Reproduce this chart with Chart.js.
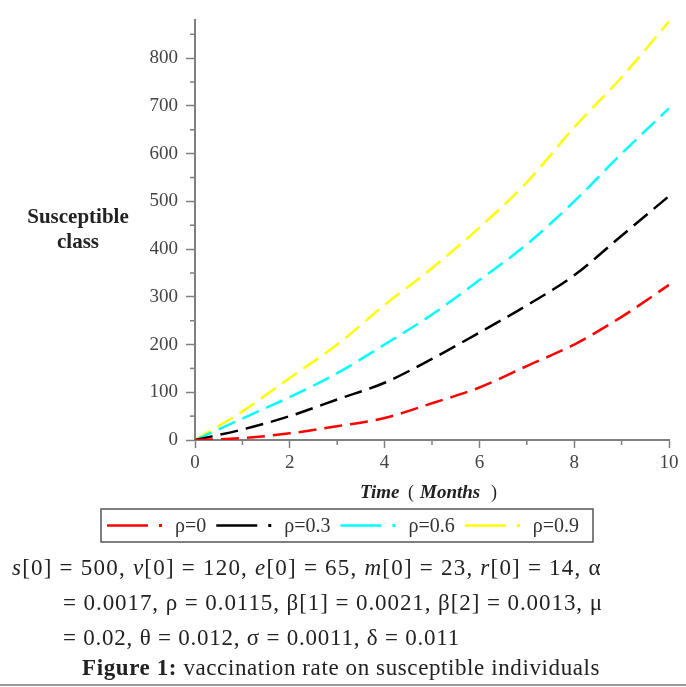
<!DOCTYPE html>
<html>
<head>
<meta charset="utf-8">
<script src="https://cdn.jsdelivr.net/npm/chart.js@4.4.1/dist/chart.umd.min.js"></script>
<style>
  body { margin: 0; background: #fff; }
  #wrap { position: relative; width: 686px; height: 687px; overflow: hidden; }
  #chart { position: absolute; left: 0; top: 0; }
  .cap { position: absolute; white-space: nowrap; font-family: "Liberation Serif", "DejaVu Serif", serif;
         color: #222; font-size: 23px; line-height: 1; }
  #rule { position: absolute; left: 0; width: 686px; top: 684px; height: 2px; background: #999; }
</style>
</head>
<body>
<div id="wrap">
  <canvas id="chart" width="686" height="687"></canvas>
  <div class="cap" id="l1" data-w="590" style="left:12px; top:556px;"><i>s</i>[0] = 500, <i>v</i>[0] = 120, <i>e</i>[0] = 65, <i>m</i>[0] = 23, <i>r</i>[0] = 14, α</div>
  <div class="cap" id="l2" data-w="540" style="left:63px; top:591px;">= 0.0017, ρ = 0.0115, β[1] = 0.0021, β[2] = 0.0013, μ</div>
  <div class="cap" id="l3" data-w="397" style="left:63px; top:626px;">= 0.02, θ = 0.012, σ = 0.0011, δ = 0.011</div>
  <div class="cap" id="l4" data-w="518" style="left:82px; top:656px;"><b>Figure 1:</b> vaccination rate on susceptible individuals</div>
  <div id="rule"></div>
</div>
<script>
// data
const months = [0, 1, 2, 3, 4, 5, 6, 7, 8, 9, 10]
const rho0  = [0, 4, 14, 29, 46, 77, 110, 155, 200, 258, 325]
const rho03 = [0, 22, 50, 85, 120, 170, 225, 282, 345, 428, 511]
const rho06 = [0, 45, 90, 140, 200, 263, 335, 410, 500, 600, 695]
const rho09 = [0, 60, 130, 200, 283, 360, 445, 540, 655, 760, 877]

const seriesLabels = ["ρ=0", "ρ=0.3", "ρ=0.6", "ρ=0.9"]
const seriesColors = ["#ff0000", "#000000", "#00ffff", "#ffff00"]
const seriesValues = [rho0, rho03, rho06, rho09]

const yTitle = ["Susceptible", "class"]

const SERIF = '"Liberation Serif", "DejaVu Serif", serif'
const AXIS_GRAY = '#808080'

function makeDataset(i) {
    return {
        label: seriesLabels[i],
        data: months.map((m, k) => ({x: m, y: seriesValues[i][k]})),
        borderColor: seriesColors[i],
        backgroundColor: seriesColors[i],
        borderWidth: 2.5,
        borderDash: [18, 8],
        pointRadius: 0,
        cubicInterpolationMode: 'monotone',
        fill: false
    }
}

// stretch the caption lines to the width they have in the figure
function fitCaptions() {
    document.querySelectorAll('.cap').forEach(el => {
        var target = +el.dataset.w
        var n = el.textContent.length
        var w = el.getBoundingClientRect().width
        el.style.letterSpacing = ((target - w) / n).toFixed(2) + 'px'
    })
}

// extras: minor ticks, axis titles and the boxed legend
const extras = {
    id: 'extras',
    afterDraw(chart) {
        const ctx = chart.ctx
        const area = chart.chartArea
        const xs = chart.scales.x
        const ys = chart.scales.y
        ctx.save()

        // minor ticks
        ctx.strokeStyle = AXIS_GRAY
        ctx.lineWidth = 1.5
        for (let v = 50; v < 880; v += 100) {
            const p = ys.getPixelForValue(v)
            ctx.beginPath(); ctx.moveTo(area.left - 5, p); ctx.lineTo(area.left, p); ctx.stroke()
        }
        for (let v = 1; v < 10; v += 2) {
            const p = xs.getPixelForValue(v)
            ctx.beginPath(); ctx.moveTo(p, area.bottom); ctx.lineTo(p, area.bottom + 5); ctx.stroke()
        }

        // y title
        ctx.fillStyle = '#222'
        ctx.font = 'bold 21px ' + SERIF
        ctx.textAlign = 'center'
        ctx.textBaseline = 'middle'
        const midY = (area.top + area.bottom) / 2
        ctx.fillText(yTitle[0], 78, midY - 12)
        ctx.fillText(yTitle[1], 78, midY + 13)

        // x title: Time ( Months )
        const parts = [
            ['Time', 'italic bold 19px ' + SERIF],
            [' ( ', '18px ' + SERIF],
            ['Months', 'italic bold 19px ' + SERIF],
            [' )', '18px ' + SERIF]
        ]
        let total = 0
        parts.forEach(p => { ctx.font = p[1]; total += ctx.measureText(p[0]).width })
        let tx = 360
        const stretch = (498 - 360) / total
        ctx.textAlign = 'left'
        parts.forEach(p => {
            ctx.font = p[1]
            ctx.fillText(p[0], tx, 493)
            tx += ctx.measureText(p[0]).width * stretch
        })

        // legend
        const boxL = 101, boxR = 593, boxT = 509, boxB = 542
        ctx.strokeStyle = '#555'
        ctx.lineWidth = 1.5
        ctx.strokeRect(boxL, boxT, boxR - boxL, boxB - boxT)
        ctx.font = '20px ' + SERIF
        const ly = (boxT + boxB) / 2
        let lx = boxL + 6
        chart.data.datasets.forEach(ds => {
            ctx.strokeStyle = ds.borderColor
            ctx.lineWidth = 2.5
            ctx.beginPath(); ctx.moveTo(lx, ly); ctx.lineTo(lx + 41, ly); ctx.stroke()
            ctx.fillStyle = ds.borderColor
            ctx.fillRect(lx + 52, ly - 1.5, 3, 3)
            ctx.fillStyle = '#333'
            ctx.fillText(ds.label, lx + 68, ly + 1)
            lx += 68 + ctx.measureText(ds.label).width + 10
        })
        ctx.restore()
    }
}

const config = {
    type: 'line',
    data: { datasets: [0, 1, 2, 3].map(makeDataset) },
    options: {
        responsive: false,
        animation: false,
        layout: { padding: { left: 0, top: 20, right: 17, bottom: 0 } },
        plugins: { legend: { display: false }, tooltip: { enabled: false } },
        scales: {
            x: {
                type: 'linear',
                min: 0,
                max: 10,
                ticks: { stepSize: 2, color: '#444', font: { family: SERIF, size: 19 }, padding: 4 },
                grid: { drawOnChartArea: false, tickLength: 8, tickColor: AXIS_GRAY, tickWidth: 1.5 },
                border: { color: AXIS_GRAY, width: 2 },
                afterFit(scale) { scale.height = 247 }
            },
            y: {
                type: 'linear',
                min: 0,
                max: 880,
                ticks: { stepSize: 100, color: '#444', font: { family: SERIF, size: 19 }, padding: 8 },
                afterBuildTicks(axis) { axis.ticks = axis.ticks.filter(t => t.value % 100 === 0) },
                grid: { drawOnChartArea: false, tickLength: 9, tickColor: AXIS_GRAY, tickWidth: 1.5 },
                border: { color: AXIS_GRAY, width: 2 },
                afterFit(scale) { scale.width = 195 }
            }
        }
    },
    plugins: [extras]
}

fitCaptions()
new Chart(document.getElementById('chart'), config)
</script>
</body>
</html>
